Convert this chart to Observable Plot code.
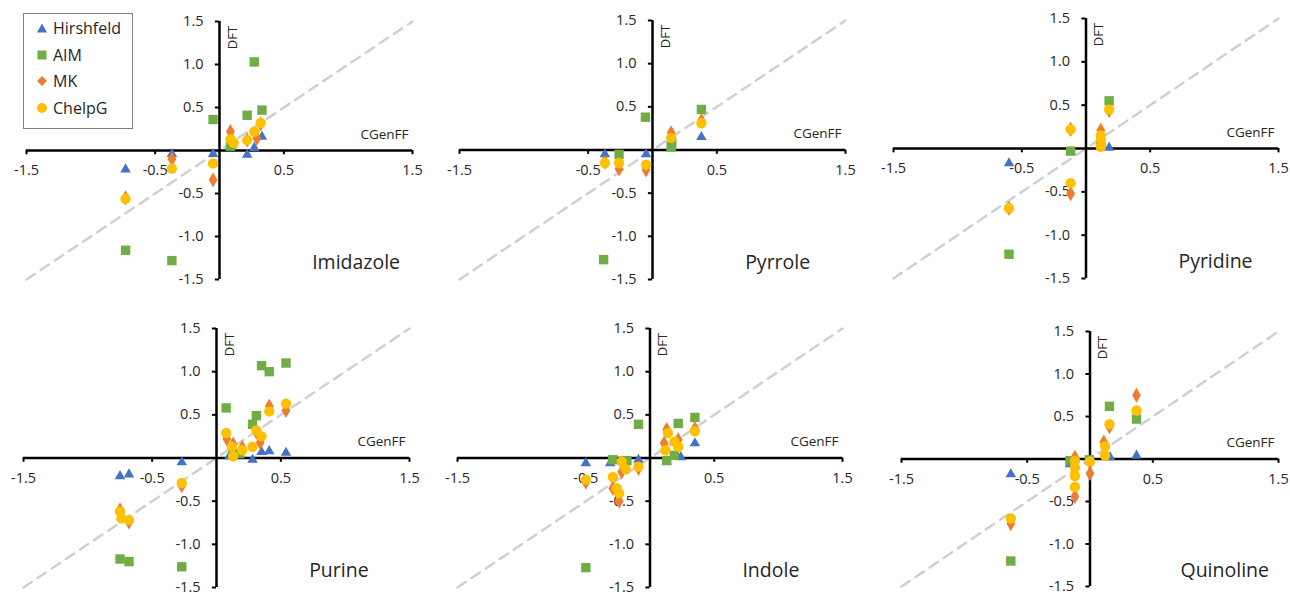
<!DOCTYPE html>
<html>
<head>
<meta charset="utf-8">
<script src="https://cdn.jsdelivr.net/npm/d3@7"></script>
<script src="https://cdn.jsdelivr.net/npm/@observablehq/plot@0.6"></script>
<style>
  html, body { margin: 0; padding: 0; background: white; }
  #wrap { position: relative; width: 1290px; height: 595px; overflow: hidden; font-family: "Open Sans", Lato, sans-serif; }
  .panel { position: absolute; }
  #legend { position: absolute; left: 23px; top: 13px; width: 108px; height: 114px; border: 1.5px solid #808080; background: white; color: #262626; font-size: 16px; }
  #legend .item { position: absolute; left: 0; height: 20px; display: flex; align-items: center; }
  #legend svg { margin-left: 13px; margin-right: 6px; }
</style>
</head>
<body>
<div id="wrap"></div>
<script>
// ---- series definitions ----
const methods = ["Hirshfeld", "AIM", "MK", "ChelpG"];
const methodColors = ["#4472C4", "#70AD47", "#ED7D31", "#FFC000"];
const methodSymbols = ["triangle", "square", "diamond", "circle"];
const methodRadius = [3.9, 5.3, 4.6, 5.2];

// ---- axis ticks ----
const xTicks = [-1.5, -0.5, 0.5, 1.5];
const xTickLabels = ["-1.5", "-0.5", "0.5", "1.5"];
const yTicks = [-1.5, -1.0, -0.5, 0.5, 1.0, 1.5];
const yTickLabels = ["-1.5", "-1.0", "-0.5", "0.5", "1.0", "1.5"];
const diagonal = [-1.5, 1.5];

// ---- data: [CGenFF, DFT] ----
const imidazoleHirshfeld = [[-0.73,-0.22],[-0.37,-0.04],[-0.05,-0.04],[0.085,0.05],[0.215,-0.05],[0.27,0.03],[0.33,0.16]];
const imidazoleAIM = [[-0.73,-1.16],[-0.37,-1.28],[-0.05,0.36],[0.085,0.05],[0.10,0.08],[0.215,0.41],[0.27,1.03],[0.33,0.47]];
const imidazoleMK = [[-0.73,-0.55],[-0.37,-0.10],[-0.05,-0.34],[0.085,0.22],[0.10,0.12],[0.215,0.12],[0.29,0.14],[0.32,0.31]];
const imidazoleChelpG = [[-0.73,-0.56],[-0.37,-0.21],[-0.05,-0.15],[0.085,0.13],[0.11,0.09],[0.215,0.12],[0.27,0.22],[0.32,0.32]];

const pyrroleHirshfeld = [[-0.37,-0.05],[-0.05,-0.05],[0.145,0.03],[0.38,0.15]];
const pyrroleAIM = [[-0.38,-1.27],[-0.26,-0.05],[-0.055,0.38],[0.145,0.035],[0.15,0.08],[0.38,0.47]];
const pyrroleMK = [[-0.37,-0.14],[-0.26,-0.22],[-0.05,-0.23],[0.145,0.20],[0.38,0.34]];
const pyrroleChelpG = [[-0.37,-0.15],[-0.26,-0.15],[-0.05,-0.17],[0.145,0.14],[0.38,0.31]];

const pyridineHirshfeld = [[-0.60,-0.17],[-0.12,-0.04],[0.115,0.08],[0.18,0.01]];
const pyridineAIM = [[-0.60,-1.22],[-0.12,-0.03],[0.115,0.05],[0.18,0.55]];
const pyridineMK = [[-0.60,-0.69],[-0.12,-0.52],[-0.12,0.22],[0.115,0.21],[0.115,0.08],[0.18,0.44]];
const pyridineChelpG = [[-0.60,-0.69],[-0.12,-0.40],[-0.12,0.22],[0.115,0.15],[0.115,0.10],[0.115,0.02],[0.18,0.45]];

const purineHirshfeld = [[-0.75,-0.21],[-0.68,-0.19],[-0.27,-0.05],[0.10,0.02],[0.13,0.04],[0.28,-0.02],[0.35,0.07],[0.41,0.08],[0.54,0.06]];
const purineAIM = [[-0.75,-1.17],[-0.68,-1.20],[-0.27,-1.26],[0.075,0.58],[0.13,0.05],[0.18,0.05],[0.28,0.39],[0.31,0.49],[0.35,1.07],[0.41,1.00],[0.54,1.10]];
const purineMK = [[-0.75,-0.60],[-0.68,-0.74],[-0.27,-0.32],[0.08,0.22],[0.13,0.16],[0.20,0.12],[0.31,0.30],[0.34,0.18],[0.41,0.60],[0.54,0.55]];
const purineChelpG = [[-0.75,-0.62],[-0.74,-0.70],[-0.68,-0.72],[-0.27,-0.29],[0.075,0.29],[0.12,0.13],[0.13,0.02],[0.20,0.09],[0.28,0.13],[0.31,0.32],[0.35,0.25],[0.41,0.54],[0.54,0.63]];

const indoleHirshfeld = [[-0.50,-0.06],[-0.31,-0.06],[-0.09,-0.02],[0.13,-0.04],[0.24,0.01],[0.35,0.17]];
const indoleAIM = [[-0.50,-1.27],[-0.29,-0.02],[-0.18,-0.03],[-0.09,0.39],[0.13,-0.03],[0.19,0.03],[0.22,0.40],[0.35,0.47]];
const indoleMK = [[-0.50,-0.28],[-0.29,-0.35],[-0.24,-0.50],[-0.22,-0.16],[-0.09,-0.12],[0.11,0.17],[0.13,0.33],[0.22,0.21],[0.35,0.34]];
const indoleChelpG = [[-0.50,-0.25],[-0.29,-0.22],[-0.26,-0.35],[-0.24,-0.41],[-0.22,-0.04],[-0.19,-0.13],[-0.09,-0.10],[0.12,0.09],[0.14,0.29],[0.19,0.19],[0.22,0.13],[0.35,0.31]];

const quinolineHirshfeld = [[-0.63,-0.18],[-0.16,-0.06],[0.16,0.02],[0.37,0.04]];
const quinolineAIM = [[-0.63,-1.20],[-0.16,-0.02],[-0.005,-0.01],[0.155,0.62],[0.37,0.47]];
const quinolineMK = [[-0.63,-0.76],[-0.12,-0.44],[-0.12,-0.18],[-0.12,0.02],[0.0,-0.17],[0.11,0.20],[0.155,0.38],[0.37,0.75]];
const quinolineChelpG = [[-0.63,-0.70],[-0.12,-0.33],[-0.12,-0.20],[-0.12,-0.10],[-0.12,-0.02],[0.0,-0.03],[0.12,0.04],[0.12,0.15],[0.155,0.41],[0.37,0.57]];

const molecules = ["Imidazole", "Pyrrole", "Pyridine", "Purine", "Indole", "Quinoline"];
const moleculeSeries = [
  [imidazoleHirshfeld, imidazoleAIM, imidazoleMK, imidazoleChelpG],
  [pyrroleHirshfeld, pyrroleAIM, pyrroleMK, pyrroleChelpG],
  [pyridineHirshfeld, pyridineAIM, pyridineMK, pyridineChelpG],
  [purineHirshfeld, purineAIM, purineMK, purineChelpG],
  [indoleHirshfeld, indoleAIM, indoleMK, indoleChelpG],
  [quinolineHirshfeld, quinolineAIM, quinolineMK, quinolineChelpG]
];

// ---- layout ----
const panelLayout = [
  {left: 0,   top: 0,   h: 300, ml: 26, mr: 18, mt: 21, mb: 21},
  {left: 430, top: 0,   h: 300, ml: 29, mr: 15, mt: 20, mb: 21},
  {left: 860, top: 0,   h: 300, ml: 33, mr: 12, mt: 18, mb: 22},
  {left: 0,   top: 300, h: 295, ml: 23, mr: 21, mt: 28, mb: 8},
  {left: 430, top: 300, h: 295, ml: 27, mr: 18, mt: 28, mb: 8},
  {left: 860, top: 300, h: 295, ml: 41, mr: 12, mt: 31, mb: 9}
];

const wrap = document.getElementById("wrap");
const textColor = "#262626";
const font = "'Open Sans', Lato, sans-serif";

molecules.forEach((name, i) => {
  const L = panelLayout[i];
  const series = moleculeSeries[i];
  const marks = [
    Plot.line(diagonal, {x: d => d, y: d => d, stroke: "#d0d0d0", strokeWidth: 2.5, strokeDasharray: "10,7"}),
    Plot.ruleY([0], {x1: -1.5, x2: 1.5, stroke: "black", strokeWidth: 2.5}),
    Plot.ruleX([0], {y1: -1.5, y2: 1.5, stroke: "black", strokeWidth: 2.5}),
    Plot.ruleX(xTicks, {x: d => d, y1: 0, y2: -0.05, stroke: "black", strokeWidth: 2}),
    Plot.ruleY(yTicks, {y: d => d, x1: 0, x2: -0.032, stroke: "black", strokeWidth: 2}),
    Plot.text(xTicks, {x: d => d, y: 0, dy: 20, text: (d, j) => xTickLabels[j], fontSize: 14.5, fill: textColor}),
    Plot.text(yTicks, {x: 0, y: d => d, dx: -16, textAnchor: "end", text: (d, j) => yTickLabels[j], fontSize: 14.5, fill: textColor}),
    Plot.text(["DFT"], {x: 0, y: 1.5, dx: 13, dy: 16, rotate: -90, text: d => d, fontSize: 13, fill: textColor}),
    Plot.text(["CGenFF"], {x: 1.5, y: 0, dx: -4, dy: -16, textAnchor: "end", text: d => d, fontSize: 13.5, fill: textColor}),
    Plot.text([name], {x: 0.72, y: -1.31, textAnchor: "start", text: d => d, fontSize: 19.5, fill: textColor})
  ];
  series.forEach((pts, k) => {
    marks.push(Plot.dot(pts, {
      x: d => d[0], y: d => d[1],
      symbol: methodSymbols[k], fill: methodColors[k], r: methodRadius[k], stroke: "none"
    }));
  });
  const chart = Plot.plot({
    width: 430, height: L.h,
    marginLeft: L.ml, marginRight: L.mr, marginTop: L.mt, marginBottom: L.mb,
    x: {domain: [-1.5, 1.5], axis: null},
    y: {domain: [-1.5, 1.5], axis: null},
    style: {fontFamily: font, background: "white", overflow: "visible"},
    marks
  });
  const div = document.createElement("div");
  div.className = "panel";
  div.style.left = L.left + "px";
  div.style.top = L.top + "px";
  div.appendChild(chart);
  wrap.appendChild(div);
});

// ---- legend ----
const legend = document.createElement("div");
legend.id = "legend";
const symbolSvg = [
  c => `<polygon points="5,0.5 10,9.5 0,9.5" fill="${c}"/>`,
  c => `<rect x="0.5" y="0.5" width="9" height="9" fill="${c}"/>`,
  c => `<polygon points="5,0 10,5 5,10 0,5" fill="${c}"/>`,
  c => `<circle cx="5" cy="5" r="5" fill="${c}"/>`
];
methods.forEach((m, k) => {
  const item = document.createElement("div");
  item.className = "item";
  item.style.top = (4 + k * 26.7) + "px";
  item.innerHTML = `<svg width="10" height="10" viewBox="0 0 10 10">${symbolSvg[k](methodColors[k])}</svg><span>${m}</span>`;
  legend.appendChild(item);
});
wrap.appendChild(legend);
</script>
</body>
</html>
